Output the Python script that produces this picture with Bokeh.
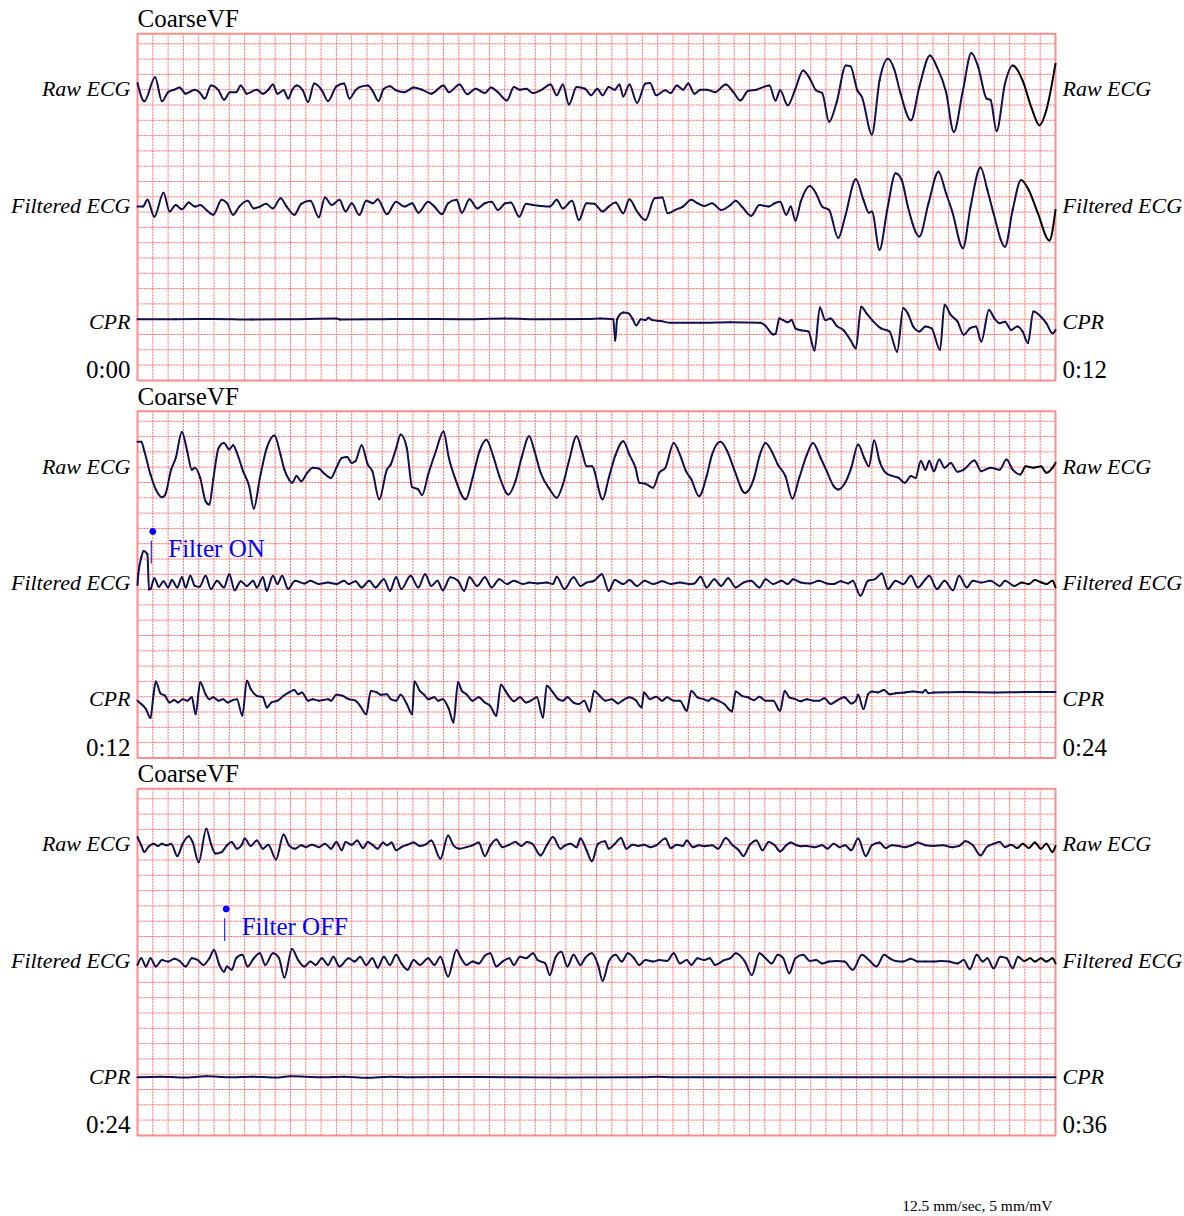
import numpy as np
from bokeh.plotting import figure
from bokeh.models import Range1d
from bokeh.embed import file_html
from bokeh.resources import INLINE
from bokeh.core.properties import value

# ---------------- data (time in s within strip, amplitude in mV) ----------------
TITLE = "CoarseVF"
CHANNELS = ["Raw ECG", "Filtered ECG", "CPR"]
STRIP_LABELS = [("0:00", "0:12"), ("0:12", "0:24"), ("0:24", "0:36")]
STRIP_START = [0, 12, 24]
STRIP_SECONDS = 12
SCALE_NOTE = "12.5 mm/sec, 5 mm/mV"
filter_events = [("Filter ON", 12.18), ("Filter OFF", 25.14)]

p1_raw = [(0.00,0.22),(0.09,-0.38),(0.23,0.41),(0.32,-0.38),(0.40,-0.08),(0.48,0.00),(0.55,0.07),(0.63,-0.13),(0.75,0.00),(0.81,-0.08),(0.88,-0.29),(0.96,0.14),(1.06,-0.02),(1.13,-0.33),(1.21,-0.08),(1.29,-0.08),(1.35,0.14),(1.43,-0.13),(1.56,0.00),(1.64,-0.13),(1.71,0.00),(1.77,0.17),(1.83,-0.13),(1.91,-0.02),(1.97,-0.29),(2.02,-0.02),(2.08,0.14),(2.16,-0.02),(2.23,-0.40),(2.31,0.20),(2.41,-0.02),(2.49,-0.37),(2.60,0.11),(2.70,0.20),(2.77,-0.29),(2.85,-0.02),(2.91,0.09),(3.01,0.14),(3.07,-0.02),(3.15,-0.37),(3.22,0.03),(3.30,0.11),(3.38,-0.02),(3.49,-0.08),(3.61,0.07),(3.72,0.00),(3.84,-0.13),(4.00,0.14),(4.07,-0.08),(4.21,0.17),(4.31,-0.15),(4.42,0.03),(4.54,-0.11),(4.62,0.07),(4.71,-0.08),(4.83,-0.35),(4.92,0.09),(5.00,0.00),(5.08,0.03),(5.17,-0.11),(5.27,-0.02),(5.40,0.17),(5.48,-0.18),(5.56,0.17),(5.64,-0.48),(5.74,0.09),(5.85,0.03),(5.93,-0.18),(6.01,0.03),(6.08,-0.18),(6.16,0.09),(6.24,0.00),(6.30,0.17),(6.35,-0.22),(6.43,0.17),(6.53,-0.43),(6.64,0.20),(6.70,0.22),(6.78,-0.18),(6.90,-0.02),(6.97,-0.11),(7.05,0.14),(7.13,0.00),(7.20,0.20),(7.28,-0.13),(7.36,0.00),(7.44,0.00),(7.55,-0.08),(7.69,0.17),(7.79,-0.08),(7.88,-0.35),(7.98,-0.04),(8.09,0.00),(8.26,0.14),(8.34,-0.35),(8.40,-0.02),(8.50,-0.51),(8.60,0.03),(8.70,0.63),(8.79,0.36),(8.87,-0.02),(8.95,-0.11),(9.04,-1.05),(9.14,-0.40),(9.26,0.79),(9.32,0.76),(9.41,-0.02),(9.47,-0.24),(9.60,-1.46),(9.70,0.30),(9.81,1.01),(9.89,0.68),(9.97,-0.08),(10.11,-1.00),(10.22,0.09),(10.36,1.12),(10.45,0.74),(10.57,-0.08),(10.67,-1.38),(10.79,-0.02),(10.90,1.20),(10.99,0.74),(11.10,-0.29),(11.15,-0.33),(11.23,-1.35),(11.34,0.20),(11.44,0.79),(11.57,0.30),(11.69,-0.62),(11.79,-1.16),(11.88,-0.67),(12.00,0.85)]

p1_filt = [(0.00,-0.02),(0.07,-0.02),(0.13,0.20),(0.22,-0.35),(0.34,0.43),(0.42,-0.18),(0.50,0.03),(0.58,-0.11),(0.67,0.11),(0.75,-0.02),(0.82,0.03),(0.90,-0.13),(0.99,-0.29),(1.10,0.20),(1.17,0.09),(1.25,-0.29),(1.33,-0.02),(1.44,0.17),(1.52,-0.08),(1.60,-0.02),(1.68,0.07),(1.77,-0.08),(1.87,0.25),(1.95,-0.02),(2.05,-0.29),(2.14,0.07),(2.26,0.17),(2.37,-0.37),(2.45,0.28),(2.54,0.03),(2.64,0.20),(2.72,-0.18),(2.80,0.09),(2.90,-0.29),(2.99,0.17),(3.08,0.09),(3.14,0.22),(3.26,-0.27),(3.38,0.14),(3.49,-0.02),(3.59,0.09),(3.67,-0.22),(3.80,0.14),(3.88,-0.02),(3.98,-0.27),(4.06,0.09),(4.17,0.20),(4.24,-0.22),(4.34,0.22),(4.44,-0.08),(4.54,0.09),(4.63,0.14),(4.71,-0.13),(4.81,0.09),(4.88,0.11),(4.99,-0.35),(5.08,0.07),(5.17,0.03),(5.27,0.00),(5.39,-0.02),(5.48,0.20),(5.56,-0.08),(5.68,0.17),(5.77,-0.46),(5.87,0.09),(5.97,0.07),(6.08,-0.18),(6.16,-0.02),(6.25,0.11),(6.35,-0.24),(6.43,0.22),(6.53,-0.18),(6.64,-0.46),(6.76,0.25),(6.86,0.28),(6.93,-0.24),(7.03,-0.13),(7.13,-0.02),(7.24,0.20),(7.32,0.09),(7.41,0.00),(7.51,0.09),(7.63,-0.13),(7.75,0.03),(7.82,0.17),(7.90,-0.02),(8.02,-0.32),(8.13,0.03),(8.25,-0.02),(8.33,0.09),(8.40,0.14),(8.48,-0.29),(8.54,-0.02),(8.60,-0.48),(8.67,0.14),(8.79,0.65),(8.87,0.41),(8.95,-0.02),(9.04,-0.13),(9.16,-1.05),(9.25,-0.35),(9.39,0.87),(9.49,0.20),(9.56,-0.22),(9.60,-0.18),(9.70,-1.43),(9.80,-0.13),(9.91,1.07),(9.99,0.85),(10.07,-0.02),(10.22,-1.00),(10.34,0.09),(10.47,1.12),(10.57,0.41),(10.65,-0.18),(10.79,-1.38),(10.89,-0.02),(11.02,1.26),(11.11,0.52),(11.19,-0.24),(11.34,-1.33),(11.44,-0.13),(11.55,0.85),(11.65,0.52),(11.77,-0.24),(11.92,-1.13),(12.00,-0.13)]

p1_cpr = [(0.00,0.10),(0.50,0.10),(1.00,0.11),(1.50,0.09),(2.00,0.10),(2.60,0.12),(2.65,0.09),(3.20,0.10),(3.60,0.11),(4.20,0.10),(4.80,0.12),(5.30,0.10),(5.90,0.11),(6.05,0.12),(6.22,0.10),(6.245,-0.60),(6.27,0.10),(6.35,0.32),(6.42,0.29),(6.47,0.12),(6.52,-0.10),(6.58,0.10),(6.64,0.07),(6.68,0.15),(6.73,0.07),(6.84,0.04),(6.97,-0.02),(7.36,-0.02),(7.75,0.00),(8.14,-0.02),(8.21,-0.12),(8.31,-0.40),(8.34,-0.38),(8.39,0.12),(8.44,0.07),(8.50,0.00),(8.55,0.07),(8.60,-0.20),(8.67,-0.26),(8.77,-0.30),(8.85,-0.92),(8.92,0.48),(8.99,0.07),(9.06,0.12),(9.14,-0.12),(9.23,-0.26),(9.32,-0.58),(9.39,-0.85),(9.46,0.51),(9.53,0.29),(9.60,0.08),(9.72,-0.20),(9.83,-0.30),(9.93,-0.96),(10.01,0.46),(10.07,0.29),(10.14,-0.14),(10.22,-0.30),(10.30,-0.14),(10.38,-0.20),(10.49,-0.90),(10.55,0.57),(10.63,0.24),(10.72,0.02),(10.80,-0.41),(10.88,-0.20),(10.96,-0.14),(11.03,-0.63),(11.13,0.40),(11.20,0.13),(11.27,-0.03),(11.34,0.02),(11.42,-0.25),(11.50,-0.14),(11.57,-0.30),(11.64,-0.68),(11.71,0.35),(11.81,0.18),(11.88,-0.03),(11.96,-0.36),(12.00,-0.25)]

p2_raw = [(0.00,0.83),(0.05,0.83),(0.09,0.52),(0.17,-0.24),(0.24,-0.73),(0.32,-0.98),(0.36,-0.91),(0.44,-0.08),(0.50,0.30),(0.58,1.15),(0.65,0.52),(0.71,-0.08),(0.75,-0.02),(0.82,-0.35),(0.89,-1.11),(0.94,-1.22),(0.99,-0.40),(1.06,0.63),(1.13,0.79),(1.20,0.58),(1.25,0.72),(1.30,0.47),(1.38,-0.13),(1.46,-0.62),(1.52,-1.35),(1.60,-0.35),(1.69,0.63),(1.79,1.04),(1.87,0.41),(1.92,-0.08),(1.98,-0.40),(2.02,-0.51),(2.08,-0.29),(2.14,-0.46),(2.22,-0.18),(2.29,-0.02),(2.37,-0.04),(2.43,-0.18),(2.53,-0.35),(2.60,-0.02),(2.67,0.30),(2.74,0.33),(2.80,0.14),(2.85,0.20),(2.93,0.72),(3.01,0.09),(3.07,-0.13),(3.16,-1.05),(3.26,-0.08),(3.31,0.09),(3.38,0.61),(3.44,1.07),(3.52,0.63),(3.59,-0.65),(3.67,-0.73),(3.72,-0.91),(3.80,-0.24),(3.90,0.52),(4.00,1.17),(4.07,0.30),(4.15,-0.35),(4.29,-1.05),(4.38,-0.35),(4.47,0.52),(4.56,0.90),(4.65,0.36),(4.73,-0.29),(4.85,-0.89),(4.94,-0.46),(5.02,0.30),(5.12,1.01),(5.19,0.52),(5.27,-0.18),(5.39,-0.73),(5.48,-1.00),(5.56,-0.57),(5.64,0.20),(5.74,1.01),(5.81,0.52),(5.87,0.03),(5.94,0.03),(6.08,-1.05),(6.16,-0.35),(6.25,0.41),(6.35,0.85),(6.43,0.41),(6.51,-0.02),(6.56,-0.51),(6.64,-0.54),(6.74,-0.67),(6.82,-0.18),(6.90,-0.02),(7.01,0.79),(7.09,0.41),(7.17,-0.13),(7.24,-0.40),(7.34,-0.95),(7.44,-0.29),(7.51,0.41),(7.62,0.83),(7.71,0.52),(7.80,-0.08),(7.94,-0.84),(8.06,-0.35),(8.13,0.36),(8.21,0.79),(8.29,0.52),(8.37,0.09),(8.47,-0.29),(8.56,-1.02),(8.65,-0.35),(8.75,0.41),(8.83,0.79),(8.93,0.30),(9.01,-0.13),(9.10,-0.62),(9.16,-0.73),(9.25,-0.51),(9.33,-0.02),(9.42,0.74),(9.50,0.30),(9.56,0.03),(9.63,0.87),(9.70,0.20),(9.78,-0.18),(9.87,-0.29),(9.95,-0.35),(10.03,-0.51),(10.11,-0.29),(10.17,-0.35),(10.24,0.20),(10.30,-0.08),(10.35,0.20),(10.41,-0.13),(10.48,0.25),(10.55,-0.02),(10.63,0.14),(10.72,-0.15),(10.80,-0.08),(10.94,0.22),(11.03,-0.13),(11.15,-0.02),(11.27,-0.08),(11.36,0.25),(11.44,-0.08),(11.54,-0.24),(11.61,0.03),(11.71,-0.02),(11.81,0.03),(11.88,-0.18),(11.96,-0.02),(12.00,0.14)]

p2_filt = [(0.00,-0.05),(0.01,0.30),(0.05,0.85),(0.08,1.06),(0.13,0.95),(0.15,-0.20),(0.17,-0.18),(0.22,0.17),(0.28,-0.11),(0.34,0.07),(0.40,-0.13),(0.45,0.11),(0.52,-0.13),(0.58,0.20),(0.63,-0.13),(0.69,0.25),(0.75,-0.08),(0.81,-0.11),(0.89,0.25),(0.96,-0.18),(1.04,0.09),(1.13,-0.13),(1.20,0.30),(1.27,-0.22),(1.35,0.07),(1.43,-0.08),(1.51,0.09),(1.56,-0.13),(1.64,0.20),(1.69,-0.24),(1.77,0.25),(1.83,-0.02),(1.89,0.25),(1.97,-0.18),(2.06,0.09),(2.18,0.00),(2.26,0.09),(2.37,-0.02),(2.49,0.03),(2.60,-0.02),(2.70,0.09),(2.76,-0.02),(2.85,0.07),(2.93,-0.13),(3.03,0.09),(3.11,-0.13),(3.22,0.14),(3.30,-0.24),(3.38,0.20),(3.45,-0.18),(3.57,0.25),(3.67,-0.13),(3.76,0.30),(3.84,-0.08),(3.92,0.09),(3.99,-0.22),(4.09,0.20),(4.19,0.09),(4.27,-0.24),(4.34,0.20),(4.44,-0.08),(4.54,0.20),(4.63,-0.13),(4.73,0.14),(4.83,-0.02),(4.92,0.09),(5.04,-0.02),(5.12,0.03),(5.23,0.00),(5.35,0.03),(5.43,-0.02),(5.48,0.22),(5.58,-0.18),(5.70,0.20),(5.79,-0.08),(5.87,0.03),(5.97,0.09),(6.07,0.30),(6.16,-0.24),(6.24,0.11),(6.35,-0.02),(6.43,0.11),(6.53,-0.08),(6.63,0.09),(6.74,-0.02),(6.86,0.07),(6.97,-0.02),(7.09,0.03),(7.21,-0.02),(7.28,0.00),(7.36,0.22),(7.44,-0.13),(7.54,0.14),(7.63,-0.08),(7.72,0.17),(7.82,-0.13),(7.92,0.03),(8.02,0.09),(8.13,-0.13),(8.21,0.14),(8.31,-0.02),(8.42,0.09),(8.50,-0.02),(8.57,0.14),(8.67,0.03),(8.79,0.00),(8.91,0.09),(9.01,0.00),(9.10,-0.02),(9.19,0.07),(9.29,0.00),(9.35,0.09),(9.45,-0.40),(9.55,0.09),(9.64,0.14),(9.73,0.33),(9.81,-0.18),(9.91,0.09),(10.01,-0.02),(10.11,0.25),(10.20,-0.13),(10.30,0.14),(10.35,0.25),(10.45,-0.18),(10.55,0.09),(10.66,-0.22),(10.74,0.25),(10.84,-0.13),(10.92,0.09),(11.03,0.03),(11.15,0.09),(11.27,-0.08),(11.34,0.09),(11.46,-0.08),(11.56,0.03),(11.65,-0.02),(11.73,0.11),(11.82,0.03),(11.88,-0.02),(11.96,0.09),(12.00,-0.13)]

p2_cpr = [(0.00,-0.03),(0.05,-0.14),(0.11,-0.30),(0.17,-0.60),(0.21,0.18),(0.24,0.60),(0.30,0.21),(0.36,0.13),(0.42,-0.09),(0.48,-0.01),(0.53,-0.09),(0.59,0.02),(0.65,-0.03),(0.71,0.08),(0.76,-0.47),(0.82,0.57),(0.89,0.18),(0.94,0.02),(0.99,0.08),(1.06,-0.03),(1.12,0.02),(1.18,-0.09),(1.25,-0.01),(1.30,0.02),(1.37,-0.52),(1.43,0.62),(1.48,0.35),(1.56,0.13),(1.64,0.08),(1.69,-0.25),(1.75,-0.09),(1.83,-0.03),(1.91,0.13),(1.98,0.24),(2.05,0.32),(2.10,0.18),(2.15,0.24),(2.23,-0.03),(2.29,0.02),(2.37,-0.03),(2.43,-0.01),(2.49,0.02),(2.53,-0.03),(2.60,0.16),(2.68,0.13),(2.76,0.02),(2.85,-0.03),(2.91,-0.20),(2.99,-0.47),(3.05,0.29),(3.13,0.24),(3.18,0.16),(3.26,0.18),(3.31,0.02),(3.38,-0.03),(3.44,0.16),(3.52,-0.14),(3.59,-0.47),(3.62,0.60),(3.69,0.29),(3.75,0.16),(3.80,0.02),(3.88,0.08),(3.93,-0.03),(3.99,0.02),(4.07,-0.30),(4.13,-0.74),(4.19,0.57),(4.24,0.29),(4.30,0.18),(4.38,-0.03),(4.46,0.08),(4.54,-0.09),(4.61,-0.20),(4.69,-0.52),(4.75,0.49),(4.81,0.29),(4.86,0.10),(4.92,-0.05),(5.00,0.08),(5.08,-0.09),(5.14,-0.03),(5.22,0.08),(5.30,-0.58),(5.35,0.46),(5.43,0.24),(5.50,0.02),(5.56,-0.03),(5.62,0.08),(5.70,-0.09),(5.77,-0.14),(5.84,-0.03),(5.91,-0.38),(5.97,0.29),(6.04,0.13),(6.12,-0.03),(6.20,0.02),(6.28,-0.12),(6.35,-0.01),(6.43,0.08),(6.51,-0.01),(6.59,-0.25),(6.62,0.24),(6.70,0.02),(6.78,0.10),(6.86,-0.03),(6.92,0.08),(7.01,-0.03),(7.09,-0.03),(7.18,-0.36),(7.24,0.29),(7.32,0.08),(7.40,0.02),(7.46,-0.03),(7.51,0.05),(7.59,-0.03),(7.67,-0.14),(7.77,-0.38),(7.82,0.27),(7.90,0.13),(7.98,0.08),(8.06,-0.01),(8.13,0.10),(8.21,-0.03),(8.31,-0.03),(8.40,-0.36),(8.46,0.29),(8.52,0.08),(8.60,0.02),(8.67,-0.05),(8.75,0.02),(8.83,-0.03),(8.91,-0.03),(8.98,0.05),(9.06,-0.14),(9.14,-0.03),(9.24,0.08),(9.33,-0.12),(9.39,-0.03),(9.42,0.16),(9.49,-0.30),(9.55,0.18),(9.60,0.27),(9.68,0.24),(9.76,0.32),(9.83,0.18),(9.91,0.21),(10.03,0.24),(10.14,0.27),(10.26,0.24),(10.30,0.32),(10.34,0.21),(10.41,0.24),(10.80,0.25),(11.20,0.24),(11.60,0.25),(12.00,0.25)]

p3_raw = [(0.00,0.25),(0.05,-0.02),(0.09,-0.24),(0.14,-0.08),(0.21,0.03),(0.27,-0.04),(0.32,0.03),(0.38,-0.02),(0.44,0.03),(0.52,-0.37),(0.59,0.03),(0.67,0.28),(0.72,0.09),(0.80,-0.57),(0.90,0.52),(0.96,0.03),(1.02,-0.29),(1.10,-0.24),(1.17,-0.02),(1.23,0.09),(1.30,-0.13),(1.37,0.03),(1.40,0.20),(1.48,-0.04),(1.56,0.14),(1.64,-0.13),(1.71,0.00),(1.81,-0.48),(1.91,0.33),(1.98,-0.02),(2.06,-0.13),(2.14,-0.02),(2.20,-0.08),(2.28,0.00),(2.37,-0.08),(2.45,0.03),(2.53,-0.13),(2.60,0.09),(2.67,-0.18),(2.72,0.09),(2.80,0.00),(2.87,0.14),(2.95,-0.11),(3.01,0.09),(3.07,0.00),(3.14,-0.13),(3.21,0.07),(3.26,-0.02),(3.32,0.07),(3.38,-0.18),(3.45,-0.08),(3.53,0.00),(3.61,0.07),(3.69,-0.04),(3.78,0.03),(3.84,0.14),(3.96,-0.46),(4.06,0.30),(4.13,-0.02),(4.21,-0.13),(4.30,-0.08),(4.38,-0.02),(4.46,0.07),(4.54,-0.37),(4.61,-0.04),(4.69,0.17),(4.77,-0.08),(4.86,0.00),(4.94,0.09),(5.02,-0.04),(5.09,0.09),(5.16,0.03),(5.27,-0.35),(5.35,-0.02),(5.43,0.25),(5.53,-0.13),(5.58,-0.04),(5.66,0.03),(5.74,-0.08),(5.79,0.20),(5.87,-0.18),(5.94,-0.54),(6.02,0.03),(6.11,0.11),(6.16,-0.13),(6.24,0.03),(6.32,0.22),(6.39,-0.13),(6.47,0.00),(6.55,-0.04),(6.62,0.00),(6.70,-0.08),(6.78,-0.02),(6.90,0.20),(6.97,-0.11),(7.05,0.00),(7.13,-0.04),(7.18,0.14),(7.26,-0.08),(7.34,-0.02),(7.41,-0.05),(7.51,-0.02),(7.59,-0.13),(7.69,0.22),(7.78,-0.02),(7.86,-0.18),(7.92,-0.37),(8.00,-0.02),(8.09,0.14),(8.17,-0.18),(8.25,0.09),(8.33,-0.02),(8.40,-0.22),(8.48,-0.02),(8.54,0.07),(8.62,-0.02),(8.67,-0.05),(8.75,-0.04),(8.85,-0.08),(8.95,-0.02),(9.02,-0.13),(9.10,0.03),(9.18,-0.08),(9.25,-0.02),(9.33,-0.18),(9.42,0.20),(9.52,-0.37),(9.60,-0.02),(9.70,0.07),(9.78,-0.11),(9.86,-0.02),(9.95,-0.04),(10.03,-0.08),(10.12,-0.02),(10.20,0.07),(10.30,-0.02),(10.41,-0.04),(10.53,-0.02),(10.65,-0.08),(10.74,-0.04),(10.82,0.11),(10.92,-0.02),(11.02,-0.35),(11.10,-0.08),(11.19,0.03),(11.27,0.09),(11.34,-0.08),(11.42,0.00),(11.50,-0.11),(11.57,0.03),(11.65,-0.11),(11.73,0.07),(11.81,-0.13),(11.88,0.03),(11.96,-0.24),(12.00,-0.04)]

p3_filt = [(0.00,-0.13),(0.05,0.09),(0.11,-0.18),(0.17,0.09),(0.24,-0.18),(0.32,0.03),(0.40,-0.02),(0.48,0.07),(0.55,0.00),(0.63,-0.18),(0.71,0.09),(0.79,0.03),(0.86,-0.13),(0.94,0.09),(1.00,0.36),(1.07,-0.13),(1.13,-0.35),(1.17,-0.18),(1.23,-0.29),(1.29,0.09),(1.37,0.20),(1.44,-0.18),(1.52,0.09),(1.60,0.25),(1.67,-0.13),(1.77,0.25),(1.85,0.09),(1.92,-0.54),(2.02,0.39),(2.10,0.03),(2.18,-0.18),(2.26,-0.02),(2.33,-0.13),(2.41,0.09),(2.49,-0.13),(2.56,0.14),(2.64,-0.18),(2.76,0.09),(2.84,-0.02),(2.91,0.14),(2.99,-0.13),(3.07,0.09),(3.14,-0.22),(3.22,0.14),(3.30,-0.13),(3.38,0.20),(3.45,-0.08),(3.53,-0.29),(3.61,0.03),(3.69,-0.13),(3.80,0.09),(3.88,-0.13),(3.96,0.14),(4.06,-0.51),(4.17,0.36),(4.23,0.09),(4.30,-0.13),(4.38,-0.02),(4.46,-0.08),(4.54,0.17),(4.61,0.25),(4.69,-0.18),(4.77,-0.02),(4.86,0.09),(4.92,-0.13),(5.00,0.14),(5.08,0.09),(5.17,0.25),(5.23,0.03),(5.33,-0.08),(5.39,-0.46),(5.46,0.09),(5.54,0.30),(5.62,-0.18),(5.70,0.20),(5.79,-0.13),(5.85,0.09),(5.94,0.25),(6.02,-0.13),(6.08,-0.65),(6.16,-0.02),(6.25,0.20),(6.33,-0.02),(6.41,0.25),(6.49,0.09),(6.56,-0.13),(6.64,0.03),(6.74,-0.02),(6.82,0.03),(6.92,0.00),(7.01,0.25),(7.09,-0.08),(7.18,0.03),(7.24,-0.13),(7.32,0.09),(7.41,0.03),(7.48,0.09),(7.55,-0.13),(7.67,0.03),(7.75,0.09),(7.82,0.25),(7.94,-0.02),(8.03,-0.46),(8.13,0.25),(8.21,0.09),(8.29,-0.08),(8.37,0.20),(8.44,0.09),(8.52,-0.40),(8.60,0.09),(8.70,0.20),(8.79,0.00),(8.87,0.03),(8.95,-0.08),(9.04,-0.02),(9.14,0.00),(9.24,-0.02),(9.35,-0.29),(9.47,0.20),(9.56,0.03),(9.66,-0.18),(9.76,0.20),(9.83,0.09),(9.91,0.00),(10.01,-0.02),(10.11,0.07),(10.20,-0.02),(10.30,-0.02),(10.41,-0.02),(10.51,0.00),(10.61,-0.02),(10.72,-0.08),(10.80,0.03),(10.88,-0.27),(10.97,0.20),(11.05,-0.02),(11.11,0.09),(11.19,-0.24),(11.28,0.14),(11.36,0.09),(11.44,-0.24),(11.51,0.14),(11.59,0.00),(11.67,0.09),(11.73,-0.02),(11.81,0.09),(11.88,-0.02),(11.96,0.09),(12.00,-0.08)]

p3_cpr = [(0.00,0.00),(0.30,0.02),(0.60,-0.01),(0.90,0.03),(1.20,0.00),(1.50,0.02),(1.80,-0.01),(2.00,0.03),(2.40,0.00),(2.70,0.02),(3.00,-0.02),(3.30,0.02),(3.60,0.00),(4.50,0.01),(5.50,-0.01),(6.60,0.00),(6.80,0.02),(7.00,0.00),(12.00,0.00)]

strips = [[p1_raw, p1_filt, p1_cpr], [p2_raw, p2_filt, p2_cpr], [p3_raw, p3_filt, p3_cpr]]

# ---------------- layout / style ----------------
W, H = 1184, 1216
PX_S = 76.5           # px per second
PX_MV = 30.6          # px per mV
GRID_S, GRID_MV = 0.2, 0.5
X0 = 137              # canvas px of t = 0
GRID_TOP = [43.3, 420.8, 798.3]   # canvas px of the first grid row
N_ROWS = 22
BASE_ROWS = [3.0, 10.6, 18.2]
TRACE = "#10104f"
GRID_COLOR = "#ff6a6a"
BORDER = "#ff8c8c"
SERIF = value("Liberation Serif")
BASELINE_FIX = 0.38   # em, renderer baseline correction
TAIL_FROM = 11.55     # s, last part of each ECG sweep is drawn in black

def ycan(py):
    return -(py - GRID_TOP[0]) / PX_MV

def put_text(x, y, txt, size, align, color="black", style="normal"):
    p.text(x=[x], y=[y + BASELINE_FIX * size / PX_MV], text=[txt], text_font=SERIF,
           text_font_style=style, text_font_size=f"{size}px", text_align=align,
           text_baseline="alphabetic", text_color=color)

def smooth_trace(t, y, colors):
    """Monotone cubic (d3 curveMonotoneX style) rendering of a sampled trace."""
    h = np.diff(t)
    d = np.diff(y) / h
    n = len(t)
    m = np.zeros(n)
    for i in range(1, n - 1):
        s0, s1 = d[i - 1], d[i]
        if s0 * s1 > 0:
            pp = (s0 * h[i] + s1 * h[i - 1]) / (h[i - 1] + h[i])
            m[i] = 2 * np.sign(s0) * min(abs(s0), abs(s1), 0.5 * abs(pp))
    m[0] = (3 * d[0] - m[1]) / 2
    m[-1] = (3 * d[-1] - m[-2]) / 2
    for col in set(colors):
        idx = [i for i in range(n - 1) if colors[i] == col]
        if not idx:
            continue
        idx = np.array(idx)
        hh = h[idx]
        p.bezier(x0=t[idx], y0=y[idx], x1=t[idx + 1], y1=y[idx + 1],
                 cx0=t[idx] + hh / 3, cy0=y[idx] + m[idx] * hh / 3,
                 cx1=t[idx + 1] - hh / 3, cy1=y[idx + 1] - m[idx + 1] * hh / 3,
                 line_color=col, line_width=2, line_cap="round")

p = figure(width=W, height=H, output_backend="svg", toolbar_location=None,
           x_range=Range1d(-X0 / PX_S, (W - X0) / PX_S),
           y_range=Range1d(ycan(H), ycan(0)),
           x_axis_type=None, y_axis_type=None, min_border=0,
           background_fill_color="white", border_fill_color="white")
p.outline_line_color = None
p.xgrid.visible = False
p.ygrid.visible = False

tick_cols = np.arange(1, int(round(STRIP_SECONDS / GRID_S)))
for k in range(3):
    gtop = ycan(GRID_TOP[k])
    btop = gtop + 10 / PX_MV
    bbot = gtop - N_ROWS * GRID_MV
    xs = tick_cols * GRID_S
    p.segment(x0=xs, y0=[bbot] * len(xs), x1=xs, y1=[btop] * len(xs),
              line_color=GRID_COLOR, line_width=1, line_dash="2 1")
    ys = gtop - np.arange(N_ROWS) * GRID_MV
    p.segment(x0=[0] * len(ys), y0=ys, x1=[STRIP_SECONDS] * len(ys), y1=ys,
              line_color=GRID_COLOR, line_width=1, line_dash="2 1")
    p.quad(left=[0], right=[STRIP_SECONDS], top=[btop], bottom=[bbot],
           fill_color=None, line_color=BORDER, line_width=2)

    for c, trace in enumerate(strips[k]):
        t = np.array([a for a, b in trace])
        v = np.array([b for a, b in trace])
        base = gtop - BASE_ROWS[c] * GRID_MV
        cols = [("black" if (c < 2 and t[i + 1] > TAIL_FROM) else TRACE) for i in range(len(t) - 1)]
        smooth_trace(t, base + v, cols)
        ly = base - 0.49 * GRID_MV
        put_text(-7 / PX_S, ly, CHANNELS[c], 22, "right", style="italic")
        put_text(STRIP_SECONDS + 7 / PX_S, ly, CHANNELS[c], 22, "left", style="italic")

    put_text(0, gtop + (43.3 - 27.5) / PX_MV, TITLE, 25, "left")
    put_text(-7 / PX_S, bbot + 1 / PX_MV, STRIP_LABELS[k][0], 25, "right")
    put_text(STRIP_SECONDS + 7 / PX_S, bbot + 1 / PX_MV, STRIP_LABELS[k][1], 25, "left")

for label, tg in filter_events:
    k = int(tg // STRIP_SECONDS)
    tl = tg - STRIP_START[k]
    gtop = ycan(GRID_TOP[k])
    p.segment(x0=[tl], y0=[gtop - 7.8 * GRID_MV], x1=[tl], y1=[gtop - 9.3 * GRID_MV],
              line_color="blue", line_width=1)
    p.scatter(x=[tl + 1.5 / PX_S], y=[gtop - 7.2 * GRID_MV], size=6,
              fill_color="blue", line_color="blue")
    put_text(tl + 17 / PX_S, gtop - 8.95 * GRID_MV, label, 25, "left", color="blue")

put_text(STRIP_SECONDS - 3 / PX_S, ycan(1211), SCALE_NOTE, 15.5, "right")

open("out.html", "w").write(file_html(p, INLINE))
